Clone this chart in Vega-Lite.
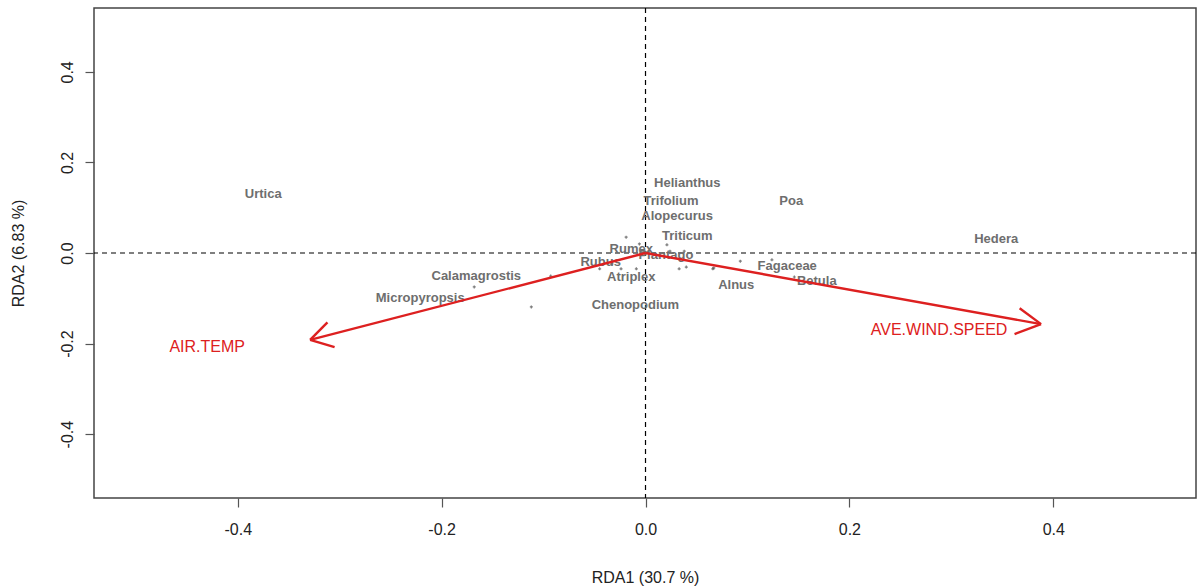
{
  "$schema": "https://vega.github.io/schema/vega-lite/v6.json",
  "autosize": {"type": "none"},
  "padding": {"left": 94, "top": 8, "right": 1, "bottom": 89},
  "width": 1102,
  "height": 490,
  "background": "white",
  "config": {
    "view": {"stroke": "#444444", "strokeWidth": 1.5},
    "font": "Liberation Sans",
    "axis": {
      "grid": false,
      "domain": false,
      "tickColor": "#555555",
      "tickSize": 9,
      "tickWidth": 1.2,
      "labelFont": "Liberation Sans",
      "labelFontSize": 16,
      "labelColor": "#222222",
      "titleFont": "Liberation Sans",
      "titleFontSize": 16,
      "titleFontWeight": "normal",
      "titleColor": "#222222"
    }
  },
  "datasets": {
    "zero": [{"v": 0}],
    "species": [
      {"name": "Urtica", "x": -0.375, "y": 0.130},
      {"name": "Helianthus", "x": 0.041, "y": 0.155},
      {"name": "Trifolium", "x": 0.025, "y": 0.115},
      {"name": "Alopecurus", "x": 0.031, "y": 0.082},
      {"name": "Triticum", "x": 0.041, "y": 0.038},
      {"name": "Poa", "x": 0.143, "y": 0.115},
      {"name": "Hedera", "x": 0.344, "y": 0.031},
      {"name": "Fagaceae", "x": 0.139, "y": -0.029},
      {"name": "Betula", "x": 0.168, "y": -0.062},
      {"name": "Alnus", "x": 0.089, "y": -0.071},
      {"name": "Chenopodium", "x": -0.010, "y": -0.115},
      {"name": "Atriplex", "x": -0.014, "y": -0.053},
      {"name": "Rubus", "x": -0.044, "y": -0.020},
      {"name": "Rumex", "x": -0.014, "y": 0.009},
      {"name": "Plantago", "x": 0.020, "y": -0.004},
      {"name": "Calamagrostis", "x": -0.166, "y": -0.051},
      {"name": "Micropyropsis", "x": -0.221, "y": -0.099}
    ],
    "dots": [
      {"x": -0.019, "y": 0.035},
      {"x": -0.006, "y": 0.020},
      {"x": 0.021, "y": 0.018},
      {"x": 0.024, "y": 0.004},
      {"x": 0.038, "y": 0.004},
      {"x": 0.040, "y": -0.031},
      {"x": 0.033, "y": -0.035},
      {"x": 0.066, "y": -0.035},
      {"x": -0.045, "y": -0.035},
      {"x": -0.024, "y": -0.035},
      {"x": -0.009, "y": -0.035},
      {"x": -0.033, "y": -0.024},
      {"x": 0.093, "y": -0.018},
      {"x": 0.067, "y": -0.033},
      {"x": 0.124, "y": -0.015},
      {"x": 0.146, "y": -0.053},
      {"x": -0.168, "y": -0.075},
      {"x": -0.112, "y": -0.119},
      {"x": -0.093, "y": -0.051}
    ],
    "arrows": [
      {"x": 0, "y": 0, "x2": -0.329, "y2": -0.192},
      {"x": -0.329, "y": -0.192, "x2": -0.312, "y2": -0.153},
      {"x": -0.329, "y": -0.192, "x2": -0.305, "y2": -0.208},
      {"x": 0, "y": 0, "x2": 0.388, "y2": -0.157},
      {"x": 0.388, "y": -0.157, "x2": 0.367, "y2": -0.122},
      {"x": 0.388, "y": -0.157, "x2": 0.362, "y2": -0.179}
    ],
    "envs": [
      {"name": "AIR.TEMP", "x": -0.430, "y": -0.208},
      {"name": "AVE.WIND.SPEED", "x": 0.288, "y": -0.170}
    ]
  },
  "layer": [
    {
      "data": {"name": "zero"},
      "mark": {"type": "rule", "strokeDash": [5, 4], "color": "#000000", "strokeWidth": 1.2},
      "encoding": {
        "x": {
          "field": "v", "type": "quantitative",
          "scale": {"domain": [-0.541, 0.54], "nice": false, "zero": false},
          "axis": {
            "values": [-0.4, -0.2, 0, 0.2, 0.4],
            "labelExpr": "(datum.value < 0 ? '-' : '') + format(abs(datum.value), '.1f')",
            "labelBaseline": "top",
            "labelPadding": 14,
            "title": "RDA1 (30.7 %)",
            "titleY": 79,
            "titleBaseline": "middle"
          }
        }
      }
    },
    {
      "data": {"name": "zero"},
      "mark": {"type": "rule", "strokeDash": [5, 4], "color": "#000000", "strokeWidth": 1.2},
      "encoding": {
        "y": {
          "field": "v", "type": "quantitative",
          "scale": {"domain": [-0.541, 0.541], "nice": false, "zero": false},
          "axis": {
            "values": [-0.4, -0.2, 0, 0.2, 0.4],
            "labelExpr": "(datum.value < 0 ? '-' : '') + format(abs(datum.value), '.1f')",
            "labelAngle": 270,
            "labelAlign": "center",
            "labelBaseline": "bottom",
            "labelPadding": 10,
            "title": "RDA2 (6.83 %)",
            "titleAngle": 270,
            "titleX": -76,
            "titleY": 245,
            "titleAlign": "center",
            "titleBaseline": "middle"
          }
        }
      }
    },
    {
      "data": {"name": "dots"},
      "mark": {"type": "point", "shape": "cross", "filled": true, "size": 9, "color": "#444444"},
      "encoding": {
        "x": {"field": "x", "type": "quantitative"},
        "y": {"field": "y", "type": "quantitative"}
      }
    },
    {
      "data": {"name": "species"},
      "mark": {"type": "text", "font": "Liberation Sans", "fontSize": 13, "fontWeight": "bold", "color": "#6e6e6e", "align": "center", "baseline": "middle"},
      "encoding": {
        "x": {"field": "x", "type": "quantitative"},
        "y": {"field": "y", "type": "quantitative"},
        "text": {"field": "name"}
      }
    },
    {
      "data": {"name": "arrows"},
      "mark": {"type": "rule", "color": "#dd2020", "strokeWidth": 2.4},
      "encoding": {
        "x": {"field": "x", "type": "quantitative"},
        "y": {"field": "y", "type": "quantitative"},
        "x2": {"field": "x2"},
        "y2": {"field": "y2"}
      }
    },
    {
      "data": {"name": "envs"},
      "mark": {"type": "text", "font": "Liberation Sans", "fontSize": 16, "color": "#dd2020", "align": "center", "baseline": "middle"},
      "encoding": {
        "x": {"field": "x", "type": "quantitative"},
        "y": {"field": "y", "type": "quantitative"},
        "text": {"field": "name"}
      }
    }
  ]
}
